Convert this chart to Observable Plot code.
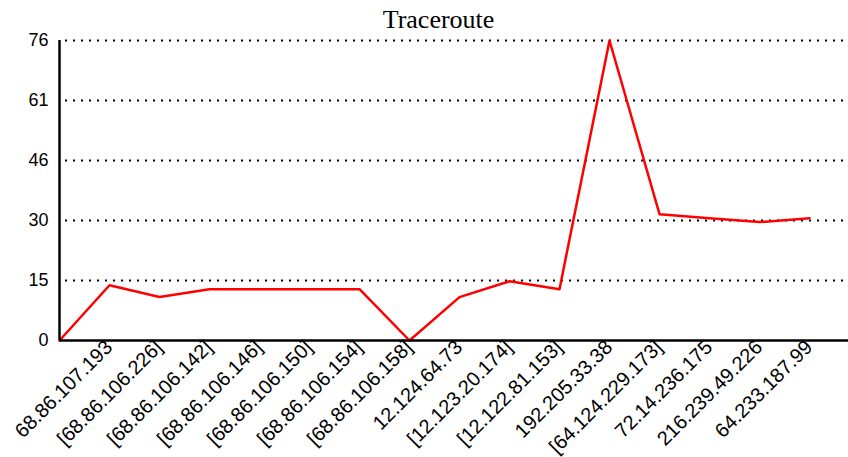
<!DOCTYPE html>
<html>
<head>
<meta charset="utf-8">
<script src="https://cdn.jsdelivr.net/npm/d3@7"></script>
<script src="https://cdn.jsdelivr.net/npm/@observablehq/plot@0.6"></script>
<style>
  html, body { margin: 0; padding: 0; background: #fff; }
  #chart svg { display: block; }
</style>
</head>
<body>
<div id="chart"></div>
<script>
const title = "Traceroute";
const hops = ["", "68.86.107.193", "[68.86.106.226]", "[68.86.106.142]", "[68.86.106.146]",
  "[68.86.106.150]", "[68.86.106.154]", "[68.86.106.158]", "12.124.64.73", "[12.123.20.174]",
  "[12.122.81.153]", "192.205.33.38", "[64.124.229.173]", "72.14.236.175", "216.239.49.226", "64.233.187.99"];
const times = [0, 14, 11, 13, 13, 13, 13, 0, 11, 15, 13, 76, 32, 31, 30, 31];
const yTicks = [0, 15.2, 30.4, 45.6, 60.8, 76];
const yTickLabels = ["0", "15", "30", "46", "61", "76"];

const data = hops.map((h, i) => ({hop: h, ms: times[i]}));
const labelOf = new Map(yTicks.map((t, i) => [t, yTickLabels[i]]));

const chart = Plot.plot({
  width: 848,
  height: 457,
  marginLeft: 59,
  marginRight: 0,
  marginTop: 40,
  marginBottom: 117,
  style: {fontFamily: "'Liberation Sans', Arial, sans-serif", background: "#fff"},
  x: {type: "point", domain: hops, range: [59, 809], padding: 0, axis: null},
  y: {domain: [0, 76], axis: null},
  marks: [
    Plot.ruleY(yTicks.slice(1), {stroke: "#000", strokeWidth: 2, strokeDasharray: "2,6", strokeDashoffset: -6}),
    Plot.line(data, {x: "hop", y: "ms", stroke: "#ff0000", strokeWidth: 2.5}),
    Plot.ruleY([0], {stroke: "#000", strokeWidth: 2.5}),
    Plot.ruleX([hops[0]], {stroke: "#000", strokeWidth: 2.5}),
    Plot.axisY({ticks: yTicks, tickFormat: d => labelOf.get(d), tickSize: 0, tickPadding: 11, fontSize: 18, fill: "#000", label: null}),
    Plot.text(hops, {x: d => d, frameAnchor: "bottom", text: d => d, rotate: -45, textAnchor: "end",
      fontSize: 20, letterSpacing: 0.5, dx: 4, dy: 8, fill: "#000"}),
    Plot.text([title], {frameAnchor: "top-left", dx: 379, dy: -13, lineAnchor: "bottom", textAnchor: "middle",
      fontFamily: "'Liberation Serif', 'Times New Roman', serif", fontSize: 26, fill: "#000"})
  ]
});
document.getElementById("chart").appendChild(chart);
</script>
</body>
</html>
